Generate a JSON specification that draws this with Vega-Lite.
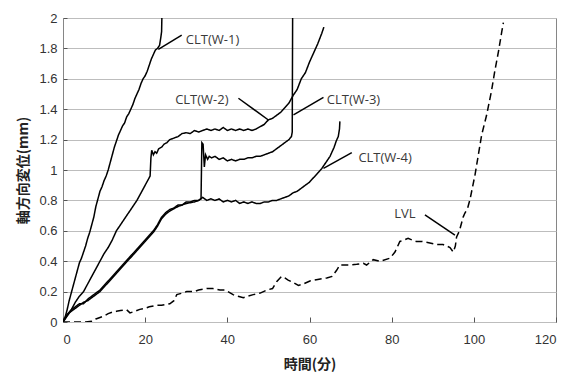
{
  "$schema": "https://vega.github.io/schema/vega-lite/v6.json",
  "width": 493,
  "height": 304,
  "autosize": "none",
  "padding": {"left": 63, "top": 18, "right": 13, "bottom": 54},
  "background": "white",
  "config": {
    "view": {"stroke": "#868686", "strokeWidth": 1},
    "axis": {
      "labelFont": "Liberation Sans",
      "labelFontSize": 13,
      "labelColor": "#333333",
      "titleFont": "Noto Sans CJK JP",
      "titleFontSize": 14,
      "titleFontWeight": "bold",
      "titleColor": "#222222",
      "domain": false,
      "labelOverlap": false
    }
  },
  "datasets": {
    "curves": [
      {"s":"W-1","t":0,"d":0},{"s":"W-1","t":0.5,"d":0.03},{"s":"W-1","t":1,"d":0.08},{"s":"W-1","t":1.5,"d":0.14},{"s":"W-1","t":2,"d":0.19},{"s":"W-1","t":2.5,"d":0.24},{"s":"W-1","t":3,"d":0.29},{"s":"W-1","t":3.5,"d":0.34},{"s":"W-1","t":4,"d":0.39},{"s":"W-1","t":4.5,"d":0.42},{"s":"W-1","t":5,"d":0.46},{"s":"W-1","t":5.5,"d":0.5},{"s":"W-1","t":6,"d":0.55},{"s":"W-1","t":6.5,"d":0.59},{"s":"W-1","t":7,"d":0.64},{"s":"W-1","t":7.5,"d":0.69},{"s":"W-1","t":8,"d":0.76},{"s":"W-1","t":8.5,"d":0.81},{"s":"W-1","t":9,"d":0.86},{"s":"W-1","t":9.5,"d":0.89},{"s":"W-1","t":10,"d":0.93},{"s":"W-1","t":10.5,"d":0.96},{"s":"W-1","t":11,"d":1.0},{"s":"W-1","t":11.5,"d":1.05},{"s":"W-1","t":12,"d":1.1},{"s":"W-1","t":12.5,"d":1.15},{"s":"W-1","t":13,"d":1.19},{"s":"W-1","t":13.5,"d":1.23},{"s":"W-1","t":14,"d":1.26},{"s":"W-1","t":14.5,"d":1.29},{"s":"W-1","t":15,"d":1.31},{"s":"W-1","t":15.5,"d":1.35},{"s":"W-1","t":16,"d":1.37},{"s":"W-1","t":16.5,"d":1.4},{"s":"W-1","t":17,"d":1.43},{"s":"W-1","t":17.5,"d":1.47},{"s":"W-1","t":18,"d":1.5},{"s":"W-1","t":18.5,"d":1.53},{"s":"W-1","t":19,"d":1.57},{"s":"W-1","t":19.5,"d":1.6},{"s":"W-1","t":20,"d":1.62},{"s":"W-1","t":20.5,"d":1.65},{"s":"W-1","t":21,"d":1.69},{"s":"W-1","t":21.5,"d":1.73},{"s":"W-1","t":22,"d":1.76},{"s":"W-1","t":22.5,"d":1.79},{"s":"W-1","t":23,"d":1.8},{"s":"W-1","t":23.5,"d":1.82},{"s":"W-1","t":23.8,"d":1.87},{"s":"W-1","t":24,"d":1.91},{"s":"W-1","t":24.1,"d":2.05},

      {"s":"W-2","t":0,"d":0},{"s":"W-2","t":1,"d":0.04},{"s":"W-2","t":2,"d":0.08},{"s":"W-2","t":3,"d":0.13},{"s":"W-2","t":4,"d":0.17},{"s":"W-2","t":5,"d":0.2},{"s":"W-2","t":6,"d":0.25},{"s":"W-2","t":7,"d":0.3},{"s":"W-2","t":8,"d":0.35},{"s":"W-2","t":9,"d":0.4},{"s":"W-2","t":10,"d":0.45},{"s":"W-2","t":11,"d":0.49},{"s":"W-2","t":12,"d":0.54},{"s":"W-2","t":13,"d":0.6},{"s":"W-2","t":14,"d":0.64},{"s":"W-2","t":15,"d":0.68},{"s":"W-2","t":16,"d":0.72},{"s":"W-2","t":17,"d":0.76},{"s":"W-2","t":18,"d":0.8},{"s":"W-2","t":19,"d":0.85},{"s":"W-2","t":20,"d":0.9},{"s":"W-2","t":21,"d":0.95},{"s":"W-2","t":21.2,"d":0.96},{"s":"W-2","t":21.4,"d":1.08},{"s":"W-2","t":21.6,"d":1.13},{"s":"W-2","t":22,"d":1.1},{"s":"W-2","t":22.4,"d":1.12},{"s":"W-2","t":22.8,"d":1.11},{"s":"W-2","t":23.3,"d":1.14},{"s":"W-2","t":24,"d":1.15},{"s":"W-2","t":24.6,"d":1.17},{"s":"W-2","t":25.3,"d":1.18},{"s":"W-2","t":26,"d":1.2},{"s":"W-2","t":27,"d":1.21},{"s":"W-2","t":28,"d":1.22},{"s":"W-2","t":29,"d":1.24},{"s":"W-2","t":30,"d":1.245},{"s":"W-2","t":31,"d":1.24},{"s":"W-2","t":32,"d":1.26},{"s":"W-2","t":33,"d":1.25},{"s":"W-2","t":34,"d":1.26},{"s":"W-2","t":35,"d":1.27},{"s":"W-2","t":36,"d":1.26},{"s":"W-2","t":37,"d":1.27},{"s":"W-2","t":38,"d":1.26},{"s":"W-2","t":39,"d":1.28},{"s":"W-2","t":40,"d":1.26},{"s":"W-2","t":41,"d":1.27},{"s":"W-2","t":42,"d":1.26},{"s":"W-2","t":43,"d":1.27},{"s":"W-2","t":44,"d":1.26},{"s":"W-2","t":45,"d":1.27},{"s":"W-2","t":46,"d":1.26},{"s":"W-2","t":47,"d":1.27},{"s":"W-2","t":48,"d":1.285},{"s":"W-2","t":49,"d":1.3},{"s":"W-2","t":50,"d":1.33},{"s":"W-2","t":51,"d":1.34},{"s":"W-2","t":52,"d":1.36},{"s":"W-2","t":53,"d":1.38},{"s":"W-2","t":54,"d":1.41},{"s":"W-2","t":55,"d":1.44},{"s":"W-2","t":56,"d":1.49},{"s":"W-2","t":57,"d":1.53},{"s":"W-2","t":58,"d":1.6},{"s":"W-2","t":59,"d":1.64},{"s":"W-2","t":60,"d":1.71},{"s":"W-2","t":61,"d":1.77},{"s":"W-2","t":62,"d":1.83},{"s":"W-2","t":63,"d":1.9},{"s":"W-2","t":63.5,"d":1.94},

      {"s":"W-3","t":0,"d":0},{"s":"W-3","t":0.5,"d":0.02},{"s":"W-3","t":1,"d":0.04},{"s":"W-3","t":1.5,"d":0.06},{"s":"W-3","t":2,"d":0.07},{"s":"W-3","t":3,"d":0.09},{"s":"W-3","t":4,"d":0.11},{"s":"W-3","t":5,"d":0.13},{"s":"W-3","t":6,"d":0.14},{"s":"W-3","t":7,"d":0.16},{"s":"W-3","t":8,"d":0.18},{"s":"W-3","t":9,"d":0.2},{"s":"W-3","t":10,"d":0.23},{"s":"W-3","t":11,"d":0.26},{"s":"W-3","t":12,"d":0.29},{"s":"W-3","t":13,"d":0.32},{"s":"W-3","t":14,"d":0.35},{"s":"W-3","t":15,"d":0.38},{"s":"W-3","t":16,"d":0.41},{"s":"W-3","t":17,"d":0.44},{"s":"W-3","t":18,"d":0.47},{"s":"W-3","t":19,"d":0.5},{"s":"W-3","t":20,"d":0.53},{"s":"W-3","t":21,"d":0.56},{"s":"W-3","t":22,"d":0.59},{"s":"W-3","t":23,"d":0.63},{"s":"W-3","t":24,"d":0.68},{"s":"W-3","t":25,"d":0.71},{"s":"W-3","t":26,"d":0.73},{"s":"W-3","t":27,"d":0.745},{"s":"W-3","t":28,"d":0.76},{"s":"W-3","t":29,"d":0.77},{"s":"W-3","t":30,"d":0.78},{"s":"W-3","t":31,"d":0.785},{"s":"W-3","t":32,"d":0.79},{"s":"W-3","t":33,"d":0.8},{"s":"W-3","t":33.6,"d":0.81},{"s":"W-3","t":33.8,"d":1.18},{"s":"W-3","t":34.1,"d":1.17},{"s":"W-3","t":34.4,"d":1.02},{"s":"W-3","t":34.7,"d":1.1},{"s":"W-3","t":35.2,"d":1.07},{"s":"W-3","t":35.6,"d":1.09},{"s":"W-3","t":36.2,"d":1.08},{"s":"W-3","t":37,"d":1.09},{"s":"W-3","t":38,"d":1.07},{"s":"W-3","t":39,"d":1.08},{"s":"W-3","t":40,"d":1.06},{"s":"W-3","t":41,"d":1.07},{"s":"W-3","t":42,"d":1.06},{"s":"W-3","t":43,"d":1.07},{"s":"W-3","t":44,"d":1.07},{"s":"W-3","t":45,"d":1.08},{"s":"W-3","t":46,"d":1.08},{"s":"W-3","t":47,"d":1.09},{"s":"W-3","t":48,"d":1.09},{"s":"W-3","t":49,"d":1.1},{"s":"W-3","t":50,"d":1.11},{"s":"W-3","t":51,"d":1.12},{"s":"W-3","t":52,"d":1.14},{"s":"W-3","t":53,"d":1.16},{"s":"W-3","t":54,"d":1.18},{"s":"W-3","t":55,"d":1.2},{"s":"W-3","t":55.6,"d":1.22},{"s":"W-3","t":55.8,"d":1.25},{"s":"W-3","t":55.9,"d":2.05},

      {"s":"W-4","t":0,"d":0},{"s":"W-4","t":0.5,"d":0.03},{"s":"W-4","t":1,"d":0.05},{"s":"W-4","t":2,"d":0.08},{"s":"W-4","t":3,"d":0.1},{"s":"W-4","t":4,"d":0.12},{"s":"W-4","t":5,"d":0.12},{"s":"W-4","t":6,"d":0.15},{"s":"W-4","t":7,"d":0.17},{"s":"W-4","t":8,"d":0.19},{"s":"W-4","t":9,"d":0.21},{"s":"W-4","t":10,"d":0.24},{"s":"W-4","t":11,"d":0.27},{"s":"W-4","t":12,"d":0.3},{"s":"W-4","t":13,"d":0.33},{"s":"W-4","t":14,"d":0.36},{"s":"W-4","t":15,"d":0.39},{"s":"W-4","t":16,"d":0.42},{"s":"W-4","t":17,"d":0.45},{"s":"W-4","t":18,"d":0.48},{"s":"W-4","t":19,"d":0.51},{"s":"W-4","t":20,"d":0.54},{"s":"W-4","t":21,"d":0.57},{"s":"W-4","t":22,"d":0.6},{"s":"W-4","t":23,"d":0.64},{"s":"W-4","t":24,"d":0.69},{"s":"W-4","t":25,"d":0.72},{"s":"W-4","t":26,"d":0.74},{"s":"W-4","t":27,"d":0.75},{"s":"W-4","t":28,"d":0.77},{"s":"W-4","t":29,"d":0.77},{"s":"W-4","t":30,"d":0.79},{"s":"W-4","t":31,"d":0.79},{"s":"W-4","t":32,"d":0.8},{"s":"W-4","t":33,"d":0.8},{"s":"W-4","t":34,"d":0.82},{"s":"W-4","t":35,"d":0.8},{"s":"W-4","t":36,"d":0.81},{"s":"W-4","t":37,"d":0.8},{"s":"W-4","t":38,"d":0.81},{"s":"W-4","t":39,"d":0.79},{"s":"W-4","t":40,"d":0.8},{"s":"W-4","t":41,"d":0.79},{"s":"W-4","t":42,"d":0.8},{"s":"W-4","t":43,"d":0.78},{"s":"W-4","t":44,"d":0.79},{"s":"W-4","t":45,"d":0.78},{"s":"W-4","t":46,"d":0.79},{"s":"W-4","t":47,"d":0.78},{"s":"W-4","t":48,"d":0.78},{"s":"W-4","t":49,"d":0.79},{"s":"W-4","t":50,"d":0.79},{"s":"W-4","t":51,"d":0.8},{"s":"W-4","t":52,"d":0.8},{"s":"W-4","t":53,"d":0.81},{"s":"W-4","t":54,"d":0.82},{"s":"W-4","t":55,"d":0.83},{"s":"W-4","t":56,"d":0.85},{"s":"W-4","t":57,"d":0.86},{"s":"W-4","t":58,"d":0.88},{"s":"W-4","t":59,"d":0.9},{"s":"W-4","t":60,"d":0.92},{"s":"W-4","t":61,"d":0.95},{"s":"W-4","t":62,"d":0.98},{"s":"W-4","t":63,"d":1.01},{"s":"W-4","t":64,"d":1.05},{"s":"W-4","t":65,"d":1.09},{"s":"W-4","t":66,"d":1.15},{"s":"W-4","t":66.5,"d":1.19},{"s":"W-4","t":67,"d":1.22},{"s":"W-4","t":67.3,"d":1.27},{"s":"W-4","t":67.4,"d":1.32},

      {"s":"LVL","t":0,"d":0},{"s":"LVL","t":2,"d":0},{"s":"LVL","t":4,"d":0},{"s":"LVL","t":5.5,"d":0},{"s":"LVL","t":7,"d":0.005},{"s":"LVL","t":8,"d":0.02},{"s":"LVL","t":9,"d":0.03},{"s":"LVL","t":10,"d":0.04},{"s":"LVL","t":11,"d":0.055},{"s":"LVL","t":12,"d":0.065},{"s":"LVL","t":13,"d":0.07},{"s":"LVL","t":14,"d":0.075},{"s":"LVL","t":15.5,"d":0.08},{"s":"LVL","t":16.3,"d":0.06},{"s":"LVL","t":17.5,"d":0.07},{"s":"LVL","t":18.7,"d":0.083},{"s":"LVL","t":20,"d":0.09},{"s":"LVL","t":21,"d":0.1},{"s":"LVL","t":22.8,"d":0.11},{"s":"LVL","t":24,"d":0.11},{"s":"LVL","t":26,"d":0.12},{"s":"LVL","t":27,"d":0.14},{"s":"LVL","t":27.7,"d":0.18},{"s":"LVL","t":29,"d":0.19},{"s":"LVL","t":30.1,"d":0.2},{"s":"LVL","t":32,"d":0.2},{"s":"LVL","t":33,"d":0.21},{"s":"LVL","t":35,"d":0.22},{"s":"LVL","t":36.5,"d":0.22},{"s":"LVL","t":38.2,"d":0.21},{"s":"LVL","t":39.5,"d":0.21},{"s":"LVL","t":41.4,"d":0.18},{"s":"LVL","t":42.6,"d":0.17},{"s":"LVL","t":43.9,"d":0.16},{"s":"LVL","t":45,"d":0.17},{"s":"LVL","t":46.3,"d":0.18},{"s":"LVL","t":48,"d":0.19},{"s":"LVL","t":49.6,"d":0.21},{"s":"LVL","t":51,"d":0.22},{"s":"LVL","t":52,"d":0.265},{"s":"LVL","t":53.2,"d":0.3},{"s":"LVL","t":54,"d":0.29},{"s":"LVL","t":54.8,"d":0.276},{"s":"LVL","t":56,"d":0.26},{"s":"LVL","t":57.3,"d":0.24},{"s":"LVL","t":58.5,"d":0.25},{"s":"LVL","t":60.1,"d":0.27},{"s":"LVL","t":62,"d":0.28},{"s":"LVL","t":64.2,"d":0.29},{"s":"LVL","t":65.5,"d":0.3},{"s":"LVL","t":66.6,"d":0.34},{"s":"LVL","t":67.4,"d":0.375},{"s":"LVL","t":69.9,"d":0.375},{"s":"LVL","t":71.5,"d":0.38},{"s":"LVL","t":73.1,"d":0.386},{"s":"LVL","t":73.9,"d":0.375},{"s":"LVL","t":75.5,"d":0.41},{"s":"LVL","t":77.2,"d":0.4},{"s":"LVL","t":79.6,"d":0.42},{"s":"LVL","t":80.8,"d":0.46},{"s":"LVL","t":82,"d":0.53},{"s":"LVL","t":83,"d":0.54},{"s":"LVL","t":84,"d":0.55},{"s":"LVL","t":84.9,"d":0.54},{"s":"LVL","t":86,"d":0.53},{"s":"LVL","t":87.3,"d":0.53},{"s":"LVL","t":89.3,"d":0.52},{"s":"LVL","t":91,"d":0.51},{"s":"LVL","t":92.5,"d":0.51},{"s":"LVL","t":94.2,"d":0.49},{"s":"LVL","t":95,"d":0.46},{"s":"LVL","t":95.5,"d":0.5},{"s":"LVL","t":95.8,"d":0.56},{"s":"LVL","t":96.5,"d":0.6},{"s":"LVL","t":97.4,"d":0.69},{"s":"LVL","t":97.8,"d":0.715},{"s":"LVL","t":98.5,"d":0.75},{"s":"LVL","t":99.1,"d":0.81},{"s":"LVL","t":100.3,"d":0.97},{"s":"LVL","t":101.1,"d":1.1},{"s":"LVL","t":101.9,"d":1.23},{"s":"LVL","t":103.1,"d":1.36},{"s":"LVL","t":104.3,"d":1.52},{"s":"LVL","t":105.1,"d":1.65},{"s":"LVL","t":106,"d":1.78},{"s":"LVL","t":106.8,"d":1.91},{"s":"LVL","t":107.2,"d":1.97}
    ],
    "leaders": [
      {"x":23.2,"y":1.794,"x2":28.9,"y2":1.888},
      {"x":42.7,"y":1.472,"x2":50.0,"y2":1.329},
      {"x":56.1,"y":1.362,"x2":63.4,"y2":1.478},
      {"x":63.4,"y":1.011,"x2":70.3,"y2":1.114},
      {"x":88.1,"y":0.704,"x2":95.4,"y2":0.572}
    ],
    "labelsLeft": [
      {"label":"CLT(W-1)","x":29.9,"y":1.855},
      {"label":"CLT(W-3)","x":64.2,"y":1.46},
      {"label":"CLT(W-4)","x":71.9,"y":1.077}
    ],
    "labelsRight": [
      {"label":"CLT(W-2)","x":40.3,"y":1.46},
      {"label":"LVL","x":85.8,"y":0.71}
    ]
  },
  "layer": [
    {
      "data": {"name": "curves"},
      "mark": {"type": "line", "color": "black", "strokeWidth": 1.5, "clip": true},
      "encoding": {
        "x": {"field": "t", "type": "quantitative",
              "scale": {"domain": [0, 120], "nice": false},
              "axis": {"title": "時間(分)", "values": [0,20,40,60,80,100,120], "tickCount": 20, "grid": false, "tickSize": -5, "tickColor": "#555555", "labelPadding": 16, "titlePadding": 11}},
        "y": {"field": "d", "type": "quantitative",
              "scale": {"domain": [0, 2], "nice": false},
              "axis": {"title": "軸方向変位(mm)", "values": [0,0.2,0.4,0.6,0.8,1,1.2,1.4,1.6,1.8,2], "tickCount": 20, "format": "~g", "grid": true, "gridColor": "#bdbdbd", "gridWidth": 1, "tickSize": -4, "tickColor": "#555555", "labelPadding": 10, "titlePadding": 8}},
        "detail": {"field": "s", "type": "nominal"},
        "strokeDash": {"field": "s", "type": "nominal",
                       "scale": {"domain": ["W-1","W-2","W-3","W-4","LVL"], "range": [[1,0],[1,0],[1,0],[1,0],[7,4]]},
                       "legend": null}
      }
    },
    {
      "data": {"name": "leaders"},
      "mark": {"type": "rule", "color": "black", "strokeWidth": 1.5},
      "encoding": {
        "x": {"field": "x", "type": "quantitative"},
        "y": {"field": "y", "type": "quantitative"},
        "x2": {"field": "x2"},
        "y2": {"field": "y2"}
      }
    },
    {
      "data": {"name": "labelsLeft"},
      "mark": {"type": "text", "font": "Open Sans", "fontSize": 13, "color": "#3a3a3a", "baseline": "middle", "align": "left"},
      "encoding": {
        "x": {"field": "x", "type": "quantitative"},
        "y": {"field": "y", "type": "quantitative"},
        "text": {"field": "label"}
      }
    },
    {
      "data": {"name": "labelsRight"},
      "mark": {"type": "text", "font": "Open Sans", "fontSize": 13, "color": "#3a3a3a", "baseline": "middle", "align": "right"},
      "encoding": {
        "x": {"field": "x", "type": "quantitative"},
        "y": {"field": "y", "type": "quantitative"},
        "text": {"field": "label"}
      }
    }
  ]
}
